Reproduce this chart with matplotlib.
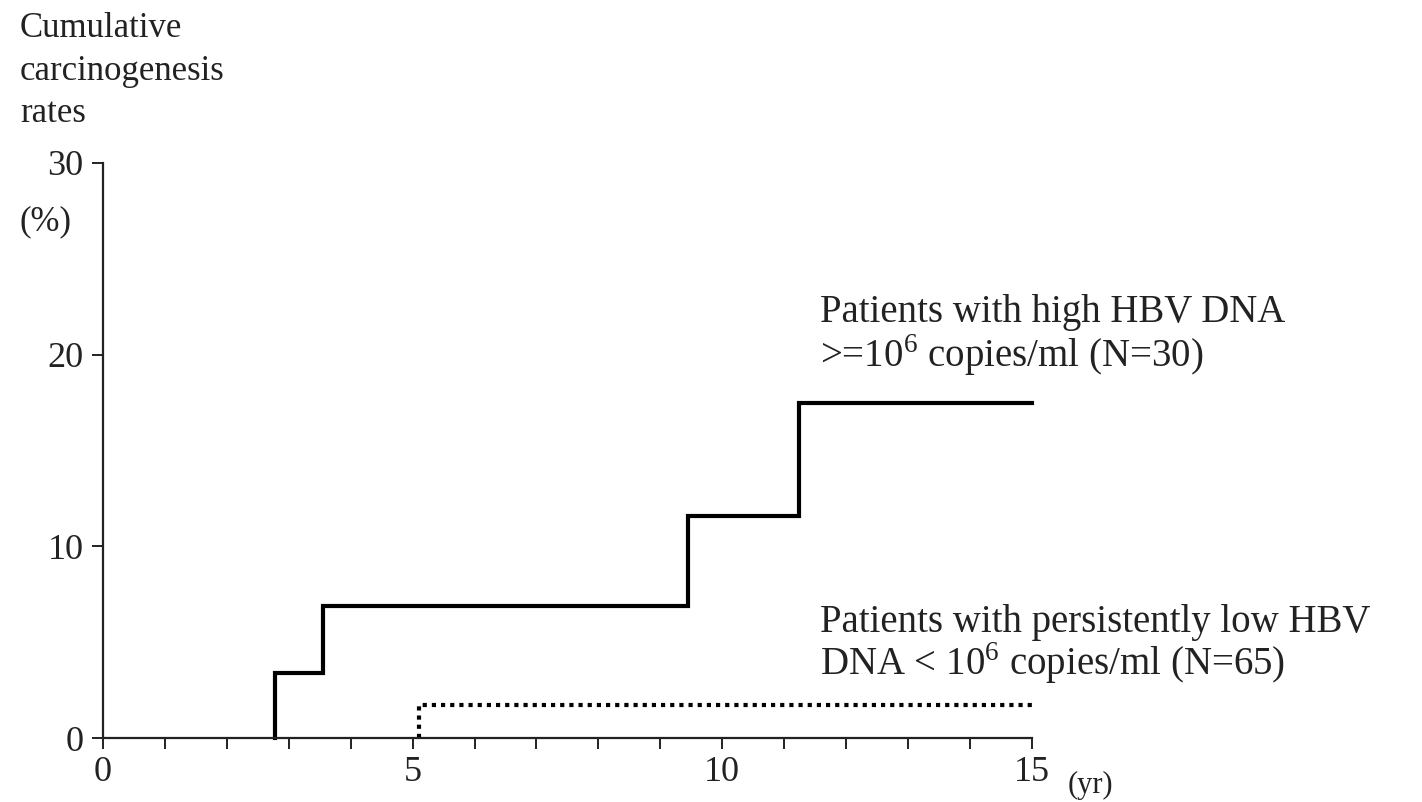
import numpy as np
import matplotlib
matplotlib.use('Agg')
import matplotlib.pyplot as plt

plt.rcParams['font.family'] = ['Liberation Serif', 'DejaVu Serif']
plt.rcParams['mathtext.fontset'] = 'custom'
plt.rcParams['mathtext.rm'] = 'Liberation Serif'

# Kaplan-Meier style cumulative rates (%)
high_years = [2.78, 3.55, 9.45, 11.24, 15.0]
high_rates = [3.4, 6.9, 11.6, 17.5, 17.5]
low_years = [5.1, 15.0]
low_rates = [1.7, 1.7]

x_major = [0, 5, 10, 15]
y_major = [0, 10, 20, 30]

high_label = ['Patients with high HBV DNA', '>=10$^{6}$ copies/ml (N=30)']
low_label = ['Patients with persistently low HBV', 'DNA < 10$^{6}$ copies/ml (N=65)']

INK = '#222222'

fig = plt.figure(figsize=[14.22, 8.02], dpi=100, facecolor='white')
ax = fig.add_axes([0.0724, 0.0798, 0.6533, 0.717])

# step curves start from zero at the first event
hx = [high_years[0]] + high_years
hy = [0] + high_rates
ax.step(hx, hy, where='post', color='black', lw=3.0, clip_on=False, solid_joinstyle='miter')
lx = [low_years[0]] + low_years
ly = [0] + low_rates
ax.step(lx, ly, where='post', color='black', lw=3.0, linestyle=(0, (1, 1.2)), clip_on=False)

ax.set_xlim(0, 15)
ax.set_ylim(0, 30)
ax.spines['top'].set_visible(False)
ax.spines['right'].set_visible(False)
for s in ['left', 'bottom']:
    ax.spines[s].set_linewidth(1.6)
    ax.spines[s].set_color(INK)

ax.set_xticks(x_major)
ax.set_xticks(np.arange(0, 16), minor=True)
ax.set_yticks(y_major)
ax.tick_params(axis='both', which='both', direction='out', length=8, width=1.4,
               colors=INK, labelsize=26, labelcolor=INK)
ax.tick_params(axis='x', pad=5)
ax.tick_params(axis='y', pad=6)

fig.text(0.014, 0.985, 'Cumulative\ncarcinogenesis\nrates', fontsize=25, va='top',
         ha='left', linespacing=1.38, color=INK)
fig.text(0.014, 0.723, '(%)', fontsize=25, va='center', ha='left', color=INK)
fig.text(0.751, 0.02, '(yr)', fontsize=22, va='center', ha='left', color=INK)

# annotation lines, placed by baseline
for txt, yb in zip(high_label, [21.7, 19.35]):
    ax.text(11.58, yb, txt, fontsize=28, va='baseline', ha='left', color=INK, clip_on=False)
for txt, yb in zip(low_label, [5.53, 3.29]):
    ax.text(11.58, yb, txt, fontsize=28, va='baseline', ha='left', color=INK, clip_on=False)

fig.savefig('out.png', dpi=100)
